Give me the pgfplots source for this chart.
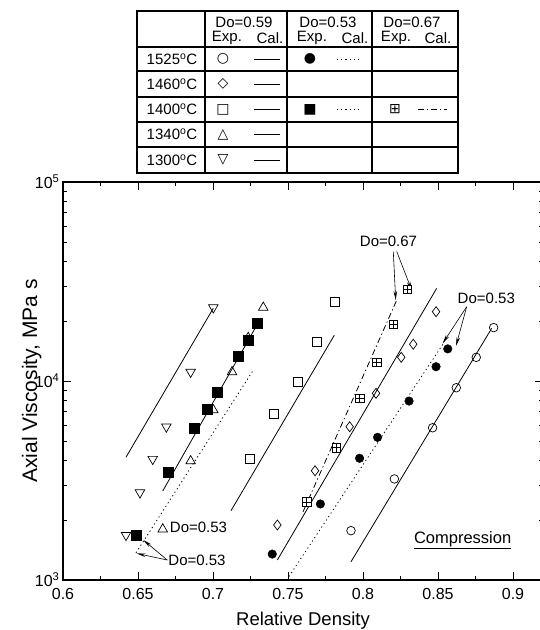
\documentclass[border=0pt]{standalone}
\usepackage{fontspec}
\setmainfont{Liberation Sans}
\newfontfamily\sym{DejaVu Sans}
\usepackage{pgfplots}
\pgfplotsset{compat=1.18}
\usetikzlibrary{arrows.meta}

% square with a cross inside (Do=0.67 points)
\pgfdeclareplotmark{boxplus}{%
  \pgfpathrectangle{\pgfpoint{-\pgfplotmarksize}{-\pgfplotmarksize}}{\pgfpoint{2\pgfplotmarksize}{2\pgfplotmarksize}}%
  \pgfusepathqfillstroke
  \pgfpathmoveto{\pgfpoint{-\pgfplotmarksize}{0pt}}\pgfpathlineto{\pgfpoint{\pgfplotmarksize}{0pt}}%
  \pgfpathmoveto{\pgfpoint{0pt}{-\pgfplotmarksize}}\pgfpathlineto{\pgfpoint{0pt}{\pgfplotmarksize}}%
  \pgfusepathqstroke}

\tikzset{dotl/.style={dash pattern=on 1.2pt off 3pt},
         dashdotl/.style={dash pattern=on 6pt off 3pt on 1.2pt off 3pt}}

\begin{document}
\begin{tikzpicture}[x=1pt,y=1pt]
\useasboundingbox (0,0) rectangle (539,630);

% ---- legend table ----
\begin{scope}[line width=1.5pt]
  \draw (137,457) rectangle (458,619);
  \foreach \yy in {583,559,533,508,483} \draw (137,\yy) -- (458,\yy);
  \foreach \xx in {205,287,372} \draw (\xx,457) -- (\xx,619);
\end{scope}
\begin{scope}[font=\fontsize{15}{17}\selectfont, inner sep=0pt]
  \node at (244,607.5) {Do=0.59};
  \node at (328,607.5) {Do=0.53};
  \node at (412,607.5) {Do=0.67};
  \foreach \cx/\lx in {227/270,312/355,396/438} {
    \node at (\cx,592) {Exp.};
    \node at (\lx,592) {Cal.};
  }
  \node at (172,571) {1525\textsuperscript{o}C};
  \node at (172,546) {1460\textsuperscript{o}C};
  \node at (172,520.5) {1400\textsuperscript{o}C};
  \node at (172,495.5) {1340\textsuperscript{o}C};
  \node at (172,470) {1300\textsuperscript{o}C};
\end{scope}
\begin{scope}[font=\sym\fontsize{14}{14}\selectfont, inner sep=0pt]
  \node at (223,571) {○};
  \node at (223,546) {◇};
  \node at (223,520.5) {□};
  \node at (223,495.5) {△};
  \node at (223,470) {▽};
  \node at (310,571) {●};
  \node at (310,520.5) {■};
  \node at (395,520.5) {⊞};
\end{scope}
\begin{scope}[line width=0.8pt]
  \foreach \yy in {571,546,520.5,495.5,470} \draw (254,\yy) -- (280,\yy);
  \draw[dotl] (337,571) -- (362,571);
  \draw[dotl] (337,520.5) -- (362,520.5);
  \draw[dashdotl] (418,520.5) -- (447,520.5);
\end{scope}

% ---- chart ----
\begin{axis}[
  at={(63pt,50pt)}, anchor=south west,
  scale only axis, width=480pt, height=398pt,
  xmin=0.6, xmax=0.92, ymin=1000, ymax=100000, ymode=log,
  xtick={0.6,0.65,0.7,0.75,0.8,0.85,0.9},
  xticklabels={0.6,0.65,0.7,0.75,0.8,0.85,0.9},
  minor x tick num=1,
  ytick={1000,10000,100000},
  yticklabels={10\textsuperscript{3},10\textsuperscript{4},10\textsuperscript{5}},
  tick align=inside, tick pos=both,
  major tick length=8pt, minor tick length=4pt,
  axis line style={line width=1.5pt},
  every tick/.style={line width=0.7pt, black},
  tick label style={font=\fontsize{16}{18}\selectfont},
  xticklabel style={yshift=-5pt},
  xlabel={Relative Density},
  ylabel={Axial Viscosity, MPa s},
  xlabel style={font=\fontsize{18.5}{20}\selectfont, at={(axis description cs:0.5,-0.103)}, anchor=center},
  ylabel style={font=\fontsize{21}{23}\selectfont, at={(axis description cs:-0.065,0.5)}, anchor=center},
  clip=false,
]
% calculated lines (Do=0.59 solid)
\addplot[black, line width=0.8pt] coordinates {(0.792,1235) (0.8858,18400)};
\addplot[black, line width=0.8pt] coordinates {(0.7429,1260) (0.8491,29200)};
\addplot[black, line width=0.8pt] coordinates {(0.712,2230) (0.7809,17000)};
\addplot[black, line width=0.8pt] coordinates {(0.6665,2800) (0.7313,20300)};
\addplot[black, line width=0.8pt] coordinates {(0.642,4140) (0.7002,23200)};
% Do=0.53 dotted
\addplot[black, line width=0.8pt, dotl] coordinates {(0.7491,1000) (0.8535,15400)};
\addplot[black, line width=0.8pt, dotl] coordinates {(0.6487,1370) (0.7269,11350)};
% Do=0.67 dash-dot
\addplot[black, line width=0.8pt, dashdotl] coordinates {(0.76,2200) (0.8225,25500)};

% experimental points
\addplot[only marks, mark=o, mark size=4.3pt, mark options={fill=white, line width=0.7pt}]
  coordinates {(0.792,1770) (0.8209,3220) (0.8464,5820) (0.8622,9250) (0.8755,13150) (0.8871,18550)};
\addplot[only marks, mark=diamond, mark size=5pt, mark options={fill=white, line width=0.7pt}]
  coordinates {(0.7429,1890) (0.768,3540) (0.7911,5890) (0.8087,8670) (0.8255,13150) (0.8335,15300) (0.8487,22300)};
\addplot[only marks, mark=square, mark size=4.5pt, mark options={fill=white, line width=0.7pt}]
  coordinates {(0.7247,4050) (0.7407,6810) (0.7565,9900) (0.7695,15700) (0.7809,25000)};
\addplot[only marks, mark=triangle, mark size=5.5pt, mark options={fill=white, line width=0.7pt}]
  coordinates {(0.6665,1800) (0.6851,3960) (0.7002,7150) (0.7127,11100) (0.7235,16500) (0.7335,23400)};
\addplot[only marks, mark=triangle, mark size=5.5pt, mark options={fill=white, line width=0.7pt, rotate=180}]
  coordinates {(0.642,1680) (0.6513,2750) (0.6598,4050) (0.6689,5890) (0.6851,11100) (0.7002,23400)};
\addplot[only marks, mark=*, mark size=4.3pt, mark options={fill=black}]
  coordinates {(0.7395,1350) (0.7716,2410) (0.7977,4090) (0.8097,5210) (0.8307,7930) (0.8487,11800) (0.8565,14500)};
\addplot[only marks, mark=square*, mark size=5pt, mark options={fill=black}]
  coordinates {(0.6487,1670) (0.6702,3490) (0.6875,5820) (0.6958,7210) (0.7031,8810) (0.7171,13250) (0.7235,16100) (0.7295,19500)};
\addplot[only marks, mark=boxplus, mark size=4.3pt, mark options={fill=white, line width=0.6pt}]
  coordinates {(0.7625,2470) (0.7822,4620) (0.7978,8200) (0.8091,12400) (0.8202,19300) (0.8295,28900)};

% annotations
\begin{scope}[font=\fontsize{15}{17}\selectfont]
\node at (axis cs:0.817,50600) {Do=0.67};
\draw[-{Stealth[length=9pt,width=3.5pt]}, line width=0.6pt] (axis cs:0.8202,44700) -- (axis cs:0.8218,25500);
\draw[-{Stealth[length=9pt,width=3.5pt]}, line width=0.6pt] (axis cs:0.8225,44700) -- (axis cs:0.8325,28600);
\node at (axis cs:0.8822,26100) {Do=0.53};
\draw[-{Stealth[length=9pt,width=3.5pt]}, line width=0.6pt] (axis cs:0.8691,23600) -- (axis cs:0.8531,15450);
\draw[-{Stealth[length=9pt,width=3.5pt]}, line width=0.6pt] (axis cs:0.8691,23600) -- (axis cs:0.862,15000);
\node[anchor=west, inner sep=1pt] at (axis cs:0.6705,1830) {Do=0.53};
\node[anchor=west, inner sep=1pt] at (axis cs:0.6695,1260) {Do=0.53};
\draw[-{Stealth[length=9pt,width=3.5pt]}, line width=0.6pt] (axis cs:0.6695,1260) -- (axis cs:0.6535,1590);
\draw[-{Stealth[length=9pt,width=3.5pt]}, line width=0.6pt] (axis cs:0.6695,1260) -- (axis cs:0.6491,1360);
\node[font=\fontsize{16.5}{18}\selectfont] at (axis cs:0.8664,1590) {\underline{Compression}};
\end{scope}
\end{axis}
\end{tikzpicture}
\end{document}
